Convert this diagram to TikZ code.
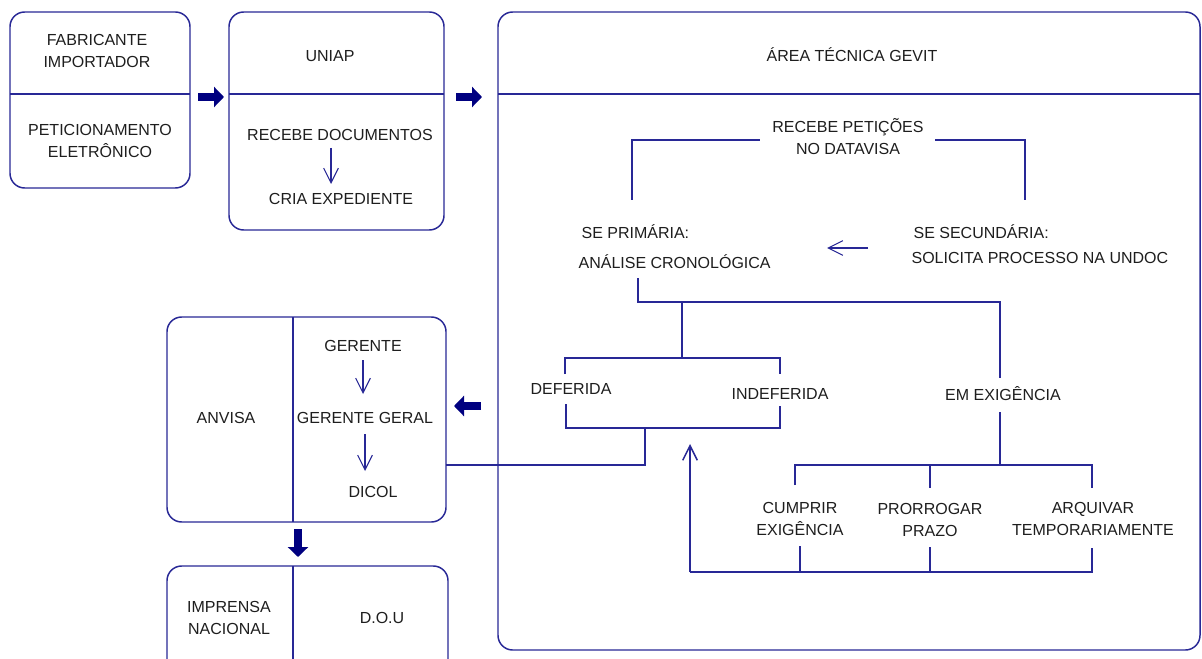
\documentclass[tikz,border=0pt]{standalone}
\usepackage{fontspec}
\setmainfont{Liberation Sans}
\usetikzlibrary{arrows.meta,fit}
\definecolor{ln}{RGB}{40,40,150}
\definecolor{nv}{RGB}{0,0,128}
\definecolor{tx}{RGB}{30,30,30}
\tikzset{
 box/.style={draw=ln,line width=1.1pt,rounded corners=11pt,inner sep=0pt},
 lnk/.style={draw=ln,line width=1.1pt},
 thinarrow/.style={draw=ln,line width=0.8pt,-{Straight Barb[length=11pt,width=11pt]}},
 bigarrow/.style={draw=nv,line width=5.3pt,-{Triangle[length=7.5pt,width=15pt]}},
 lbl/.style={text=tx,font=\fontsize{12}{16.5}\selectfont,align=center,inner sep=1pt},
 lblw/.style={lbl,anchor=west},
}
\begin{document}
\begin{tikzpicture}[x=0.75pt,y=-0.75pt]
\clip (0,0) rectangle (1202,659);
\fill[white] (0,0) rectangle (1202,659);
% boxes
\node[box,fit={(10,12)(190,188)}] (b1) {};
\node[box,fit={(229,12)(444,230)}] (b2) {};
\node[box,fit={(498,12)(1200,650)}] (b3) {};
\node[box,fit={(167,317)(446,522)}] (b4) {};
\node[box,fit={(167,566)(448,690)}] (b5) {};
% dividers
\draw[lnk] (10,94) -- (190,94);
\draw[lnk] (229,94) -- (444,94);
\draw[lnk] (498,94) -- (1200,94);
\draw[lnk] (293,317) -- (293,522);
\draw[lnk] (293,566) -- (293,690);
% texts
\node[lbl] (fab) at (97,51) {FABRICANTE\\IMPORTADOR};
\node[lbl] (pet) at (100,141) {PETICIONAMENTO\\ELETRÔNICO};
\node[lbl] (uniap) at (330,56) {UNIAP};
\node[lbl] (recdoc) at (340,135) {RECEBE DOCUMENTOS};
\node[lbl] (cria) at (341,199) {CRIA EXPEDIENTE};
\node[lbl] (area) at (852,55) {ÁREA TÉCNICA GEVIT};
\node[lbl] (recpet) at (848,137) {RECEBE PETIÇÕES\\NO DATAVISA};
\node[lblw] (seprim) at (580,232) {SE PRIMÁRIA:};
\node[lblw] (analise) at (577,262) {ANÁLISE CRONOLÓGICA};
\node[lblw] (sesec) at (912,232) {SE SECUNDÁRIA:};
\node[lblw] (solic) at (910,258) {SOLICITA PROCESSO NA UNDOC};
\node[lbl] (def) at (571,389) {DEFERIDA};
\node[lbl] (indef) at (780,394) {INDEFERIDA};
\node[lbl] (emex) at (1003,394) {EM EXIGÊNCIA};
\node[lbl] (cumprir) at (800,519) {CUMPRIR\\EXIGÊNCIA};
\node[lbl] (prorr) at (930,520) {PRORROGAR\\PRAZO};
\node[lbl] (arq) at (1093,519) {ARQUIVAR\\TEMPORARIAMENTE};
\node[lbl] (anvisa) at (226,418) {ANVISA};
\node[lbl] (ger) at (363,346) {GERENTE};
\node[lbl] (gerg) at (365,418) {GERENTE GERAL};
\node[lbl] (dicol) at (373,492) {DICOL};
\node[lbl] (impr) at (229,618) {IMPRENSA\\NACIONAL};
\node[lbl] (dou) at (382,618) {D.O.U};
% big arrows
\coordinate (a1s) at (198,97); \coordinate (a1e) at (224,97);
\coordinate (a2s) at (456,97); \coordinate (a2e) at (482,97);
\coordinate (a3s) at (481,406); \coordinate (a3e) at (454,406);
\coordinate (a4s) at (298,529); \coordinate (a4e) at (298,557);
\draw[bigarrow] (a1s) -- (a1e);
\draw[bigarrow] (a2s) -- (a2e);
\draw[bigarrow] (a3s) -- (a3e);
\draw[bigarrow] (a4s) -- (a4e);
% thin arrows
\draw[thinarrow] (331,148) -- (331,184);
\draw[thinarrow] (363,360) -- (363,394);
\draw[thinarrow] (365,434) -- (365,471);
\draw[thinarrow] (868,248) -- (827,248);
% connectors
\coordinate (anvR) at (446,465);
\draw[lnk] (632,200) -- (632,140) -- (760,140);
\draw[lnk] (935,140) -- (1025,140) -- (1025,200);
\draw[lnk] (638,278) -- (638,302) -- (1000,302) -- (1000,378);
\draw[lnk] (682,302) -- (682,358);
\draw[lnk] (565,374) -- (565,358) -- (780,358) -- (780,374);
\draw[lnk] (566,404) -- (566,428) -- (780,428) -- (780,406);
\draw[lnk] (645,428) -- (645,465) -- (anvR);
\draw[lnk] (1000,412) -- (1000,465);
\draw[lnk] (795,485) -- (795,465) -- (1092,465) -- (1092,488);
\draw[lnk] (930,465) -- (930,488);
\draw[lnk] (800,546) -- (800,572);
\draw[lnk] (930,547) -- (930,572);
\draw[lnk] (1092,548) -- (1092,572) -- (690,572);
\draw[thinarrow,line width=1.1pt] (690,572) -- (690,444);
\end{tikzpicture}
\end{document}
